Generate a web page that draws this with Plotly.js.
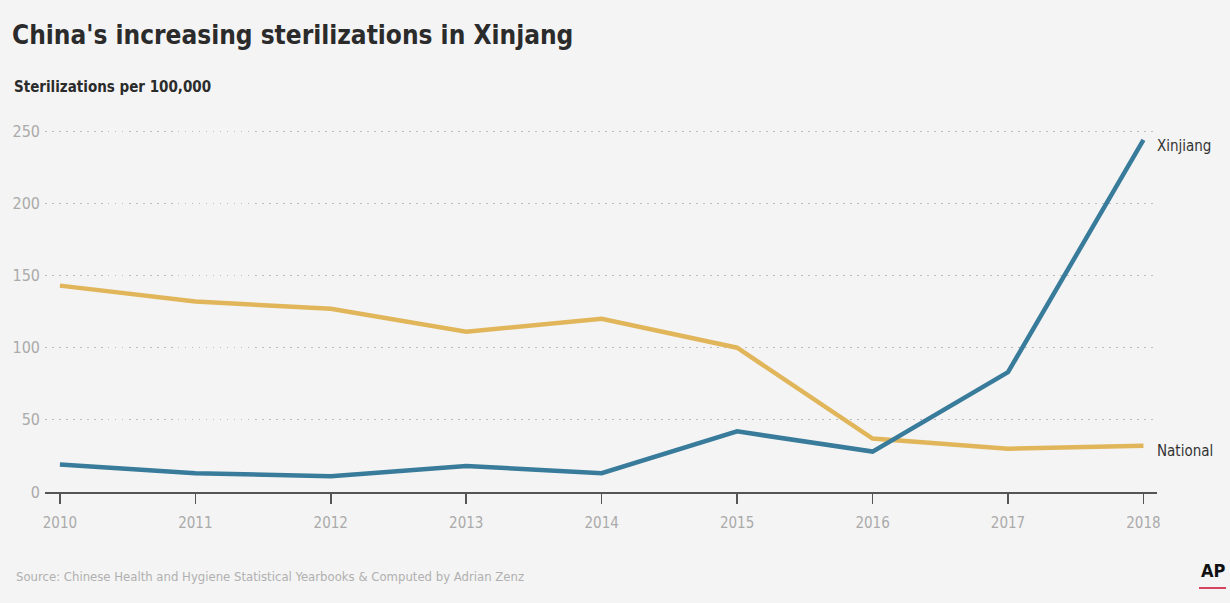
<!DOCTYPE html>
<html>
<head>
<meta charset="utf-8">
<script src="https://cdn.plot.ly/plotly-3.0.1.min.js"></script>
<style>
html,body{margin:0;padding:0;background:#f4f4f4;}
#chart{width:1230px;height:603px;}
#chart text{font-stretch:condensed !important;}
</style>
</head>
<body>
<div id="chart"></div>
<script>
const years = [2010, 2011, 2012, 2013, 2014, 2015, 2016, 2017, 2018];
const xinjiang = [19, 13, 11, 18, 13, 42, 28, 83, 244];
const national = [143, 132, 127, 111, 120, 100, 37, 30, 32];
const yTicks = [0, 50, 100, 150, 200, 250];

const FONT = '"DejaVu Sans Condensed", "DejaVu Sans", sans-serif';

const traces = [
  {x: years, y: national, mode: 'lines', name: 'National',
   line: {color: '#e1b65b', width: 4.5}, hoverinfo: 'x+y'},
  {x: years, y: xinjiang, mode: 'lines', name: 'Xinjiang',
   line: {color: '#387b9b', width: 4.5}, hoverinfo: 'x+y'}
];

const layout = {
  width: 1230, height: 603,
  paper_bgcolor: '#f4f4f4', plot_bgcolor: '#f4f4f4',
  margin: {l: 45, r: 73, t: 124, b: 111},
  showlegend: false,
  font: {family: FONT, color: '#333'},
  title: {text: "<b>China's increasing sterilizations in Xinjang</b>",
    x: 12/1230, xanchor: 'left', xref: 'container',
    y: 1 - 35/603, yanchor: 'middle', yref: 'container',
    font: {family: FONT, size: 26, color: '#2b2b2b'}},
  xaxis: {
    range: [2009.89, 2018.1], tickvals: years, ticktext: years.map(String),
    showgrid: false, zeroline: false,
    showline: true, linecolor: '#555', linewidth: 1.5,
    ticks: 'outside', ticklen: 10, tickcolor: '#555', tickwidth: 1.5,
    ticklabelstandoff: 6,
    tickfont: {family: FONT, size: 15, color: '#aaaaaa'}
  },
  yaxis: {
    range: [0, 255], tickvals: yTicks, ticktext: yTicks.map(String),
    showgrid: true, gridcolor: '#bdbdbd', griddash: '1.5px,5.5px', gridwidth: 1.2,
    zeroline: false, showline: false, ticks: '',
    ticklabelstandoff: 4,
    tickfont: {family: FONT, size: 16, color: '#aaaaaa'}
  },
  annotations: [
    {text: '<b>Sterilizations per 100,000</b>', xref: 'paper', yref: 'paper',
     x: -0.0297, y: (492 - 87) / 368, xanchor: 'left', yanchor: 'middle', showarrow: false,
     font: {family: FONT, size: 15, color: '#2b2b2b'}},
    {text: 'Source: Chinese Health and Hygiene Statistical Yearbooks & Computed by Adrian Zenz',
     xref: 'paper', yref: 'paper', x: -0.0279, y: (492 - 576) / 368,
     xanchor: 'left', yanchor: 'middle', showarrow: false,
     font: {family: FONT, size: 13, color: '#b0b0b0'}},
    {text: '<b>AP</b>', xref: 'paper', yref: 'paper', x: (1213 - 45) / 1112, y: (492 - 570) / 368,
     xanchor: 'center', yanchor: 'middle', showarrow: false,
     font: {family: FONT, size: 18, color: '#111'}},
    {text: 'Xinjiang', xref: 'x', yref: 'y', x: years[years.length - 1], y: xinjiang[xinjiang.length - 1],
     xanchor: 'left', yanchor: 'middle', xshift: 12, yshift: -6, showarrow: false,
     font: {family: FONT, size: 15, color: '#333'}},
    {text: 'National', xref: 'x', yref: 'y', x: years[years.length - 1], y: national[national.length - 1],
     xanchor: 'left', yanchor: 'middle', xshift: 12, yshift: -5, showarrow: false,
     font: {family: FONT, size: 15, color: '#333'}}
  ],
  shapes: [
    {type: 'line', xref: 'paper', yref: 'paper',
     x0: (1199 - 45) / 1112, x1: (1226 - 45) / 1112,
     y0: (492 - 588) / 368, y1: (492 - 588) / 368,
     line: {color: '#d6455f', width: 2}}
  ]
};

Plotly.newPlot('chart', traces, layout, {displayModeBar: false, staticPlot: true});
</script>
</body>
</html>
